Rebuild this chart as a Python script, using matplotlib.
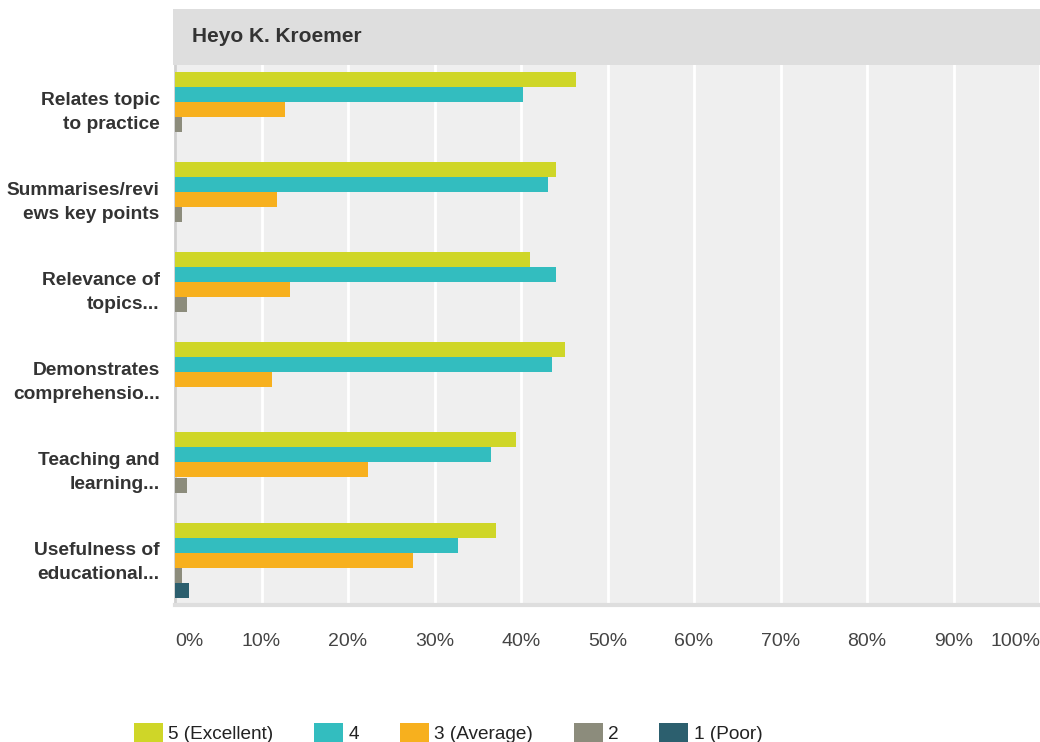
import numpy as np
import matplotlib
matplotlib.use("Agg")
import matplotlib.pyplot as plt
from matplotlib.patches import Rectangle
from matplotlib.transforms import ScaledTranslation

plt.rcParams['font.family'] = ['Liberation Sans', 'DejaVu Sans']

# Data (percent of responses)
title = "Heyo K. Kroemer"
categories = ["Relates topic\nto practice", "Summarises/revi\news key points",
              "Relevance of\ntopics...", "Demonstrates\ncomprehensio...",
              "Teaching and\nlearning...", "Usefulness of\neducational..."]
series_names = ["5 (Excellent)", "4", "3 (Average)", "2", "1 (Poor)"]
v5 = [46.4, 44.0, 41.0, 45.1, 39.4, 37.1]
v4 = [40.2, 43.1, 44.0, 43.6, 36.5, 32.7]
v3 = [12.7, 11.8, 13.3, 11.2, 22.3, 27.5]
v2 = [0.8, 0.8, 1.4, 0.0, 1.4, 0.8]
v1 = [0.0, 0.0, 0.0, 0.0, 0.0, 1.6]
xticks = [0, 10, 20, 30, 40, 50, 60, 70, 80, 90, 100]

colors = ["#cfd628", "#33bdbf", "#f7b01e", "#8c8c7c", "#2c5f6e"]

W, H = 1040, 742
fig = plt.figure(figsize=(W / 100, H / 100), dpi=100)

# axes in pixel units
x0, x1, ytop, ybot = 175, 1040, 65, 605
ax = fig.add_axes([x0 / W, 1 - ybot / H, (x1 - x0) / W, (ybot - ytop) / H])
ax.set_facecolor("#efefef")

# title bar
fig.patches.append(Rectangle((173 / W, 1 - 65 / H), (W - 173) / W, 56 / H,
                             transform=fig.transFigure, facecolor="#dedede",
                             edgecolor="none", zorder=0))
fig.text(192 / W, 1 - 36 / H, title, fontsize=15, fontweight="bold",
         color="#333333", va="center", ha="left")

y = np.arange(len(categories))
h = 1 / 6
for j, (vals, name) in enumerate(zip([v5, v4, v3, v2, v1], series_names)):
    ax.barh(y + (j - 2) * h, vals, height=h, color=colors[j], label=name,
            zorder=3, linewidth=0)

ax.set_xlim(0, 100)
ax.set_ylim(len(categories) - 0.5, -0.5)

ax.set_xticks(xticks)
ax.xaxis.grid(True, color="white", linewidth=2, zorder=1)
ax.set_axisbelow(True)
labels = ax.set_xticklabels([f"{t}%" for t in xticks], fontsize=14, color="#444444")
labels[0].set_ha("left")
labels[-1].set_ha("right")
ax.tick_params(axis="x", length=0, pad=20)

ax.set_yticks(y)
ax.set_yticklabels(categories, fontsize=13.8, fontweight="bold", color="#333333",
                   linespacing=1.55)
ax.tick_params(axis="y", length=0, pad=11)
# nudge category labels up a little
for lab in ax.get_yticklabels():
    lab.set_transform(lab.get_transform() + ScaledTranslation(0, 3 / 100, fig.dpi_scale_trans))

for s in ["top", "right"]:
    ax.spines[s].set_visible(False)
ax.spines["left"].set_color("#d0d0d0")
ax.spines["left"].set_linewidth(2)
ax.spines["bottom"].set_color("#dedede")
ax.spines["bottom"].set_linewidth(3)

fig.legend(loc="center", bbox_to_anchor=(448 / W, 1 - 733 / H), ncol=5,
           frameon=False, fontsize=13.7, handlelength=1.53, handleheight=1.3,
           handletextpad=0.27, columnspacing=2.15, labelcolor="#222222")

fig.savefig("out.png", dpi=100)
